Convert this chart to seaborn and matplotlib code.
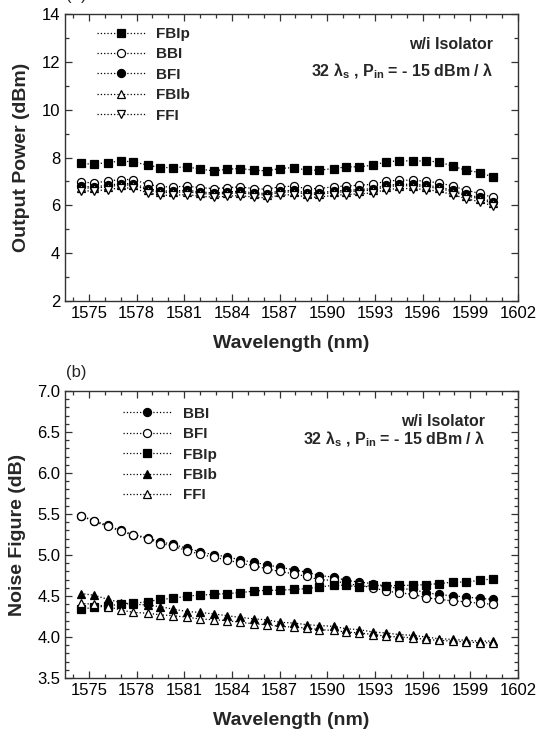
import matplotlib
matplotlib.use("Agg")
import matplotlib.pyplot as plt
import seaborn as sns
from matplotlib.ticker import MultipleLocator

# estilo base de seaborn
sns.set_style("ticks")
plt.rcParams['font.family'] = ['Liberation Sans', 'DejaVu Sans']
plt.rcParams['mathtext.fontset'] = 'custom'
plt.rcParams['mathtext.rm'] = 'Liberation Sans:bold'
plt.rcParams['mathtext.it'] = 'Liberation Sans:bold'
plt.rcParams['mathtext.bf'] = 'Liberation Sans:bold'

# longitudes de onda de los 32 canales (nm)
wavelength = [1574.5, 1575.3, 1576.2, 1577.0, 1577.8, 1578.7, 1579.5, 1580.3,
              1581.2, 1582.0, 1582.9, 1583.7, 1584.5, 1585.4, 1586.2, 1587.0,
              1587.9, 1588.7, 1589.5, 1590.4, 1591.2, 1592.0, 1592.9, 1593.7,
              1594.5, 1595.4, 1596.2, 1597.0, 1597.9, 1598.7, 1599.6, 1600.4]

# (a) potencia de salida (dBm)
pout_fbip = [7.75, 7.72, 7.79, 7.85, 7.82, 7.68, 7.58, 7.58, 7.61, 7.51, 7.44,
             7.51, 7.54, 7.47, 7.44, 7.54, 7.58, 7.47, 7.47, 7.54, 7.61, 7.61,
             7.68, 7.82, 7.86, 7.86, 7.85, 7.82, 7.64, 7.47, 7.37, 7.19]
pout_bbi = [6.97, 6.94, 7.01, 7.08, 7.08, 6.88, 6.78, 6.77, 6.80, 6.74, 6.70,
            6.74, 6.77, 6.70, 6.67, 6.78, 6.80, 6.70, 6.70, 6.78, 6.81, 6.84,
            6.88, 7.01, 7.05, 7.05, 7.01, 6.94, 6.81, 6.63, 6.50, 6.33]
pout_bfi = [6.80, 6.77, 6.84, 6.91, 6.91, 6.70, 6.60, 6.60, 6.63, 6.56, 6.52,
            6.56, 6.59, 6.52, 6.49, 6.60, 6.63, 6.52, 6.52, 6.60, 6.63, 6.66,
            6.70, 6.84, 6.88, 6.88, 6.84, 6.77, 6.63, 6.46, 6.33, 6.14]
pout_fbib = [6.74, 6.71, 6.78, 6.85, 6.85, 6.64, 6.54, 6.54, 6.57, 6.50, 6.46,
             6.50, 6.53, 6.46, 6.43, 6.54, 6.57, 6.46, 6.46, 6.54, 6.57, 6.60,
             6.64, 6.78, 6.82, 6.82, 6.78, 6.71, 6.57, 6.40, 6.27, 6.08]
pout_ffi = [6.62, 6.59, 6.66, 6.73, 6.72, 6.52, 6.42, 6.42, 6.45, 6.38, 6.34,
            6.38, 6.41, 6.34, 6.31, 6.42, 6.45, 6.34, 6.34, 6.42, 6.45, 6.48,
            6.52, 6.66, 6.70, 6.70, 6.66, 6.59, 6.45, 6.28, 6.15, 5.98]

# (b) figura de ruido (dB)
nf_bbi = [5.48, 5.42, 5.36, 5.30, 5.25, 5.21, 5.16, 5.13, 5.08, 5.04, 5.00,
          4.98, 4.94, 4.91, 4.88, 4.85, 4.82, 4.79, 4.75, 4.73, 4.69, 4.67,
          4.65, 4.62, 4.59, 4.58, 4.54, 4.52, 4.50, 4.49, 4.47, 4.46]
nf_bfi = [5.48, 5.41, 5.35, 5.29, 5.24, 5.20, 5.14, 5.11, 5.05, 5.01, 4.97,
          4.94, 4.90, 4.87, 4.83, 4.80, 4.77, 4.74, 4.70, 4.69, 4.65, 4.63,
          4.60, 4.56, 4.54, 4.52, 4.48, 4.46, 4.44, 4.43, 4.41, 4.40]
nf_fbip = [4.34, 4.36, 4.38, 4.40, 4.41, 4.43, 4.46, 4.47, 4.50, 4.51, 4.52,
           4.53, 4.54, 4.56, 4.57, 4.57, 4.58, 4.59, 4.61, 4.63, 4.63, 4.61,
           4.63, 4.62, 4.63, 4.63, 4.64, 4.65, 4.67, 4.67, 4.69, 4.71]
nf_fbib = [4.53, 4.51, 4.46, 4.42, 4.40, 4.39, 4.37, 4.34, 4.31, 4.30, 4.28,
           4.26, 4.24, 4.22, 4.21, 4.18, 4.17, 4.15, 4.14, 4.13, 4.10, 4.09,
           4.06, 4.05, 4.03, 4.02, 4.00, 3.98, 3.97, 3.96, 3.95, 3.95]
nf_ffi = [4.41, 4.40, 4.37, 4.33, 4.30, 4.29, 4.27, 4.26, 4.24, 4.22, 4.21,
          4.20, 4.18, 4.16, 4.15, 4.13, 4.12, 4.11, 4.09, 4.08, 4.06, 4.05,
          4.03, 4.01, 4.00, 3.99, 3.97, 3.96, 3.95, 3.94, 3.93, 3.93]

# (etiqueta, datos, marcador, relleno)
series_a = [('FBIp', pout_fbip, 's', 'k'),
            ('BBI', pout_bbi, 'o', 'white'),
            ('BFI', pout_bfi, 'o', 'k'),
            ('FBIb', pout_fbib, '^', 'white'),
            ('FFI', pout_ffi, 'v', 'white')]
series_b = [('BBI', nf_bbi, 'o', 'k'),
            ('BFI', nf_bfi, 'o', 'white'),
            ('FBIp', nf_fbip, 's', 'k'),
            ('FBIb', nf_fbib, '^', 'k'),
            ('FFI', nf_ffi, '^', 'white')]

msize = {'s': 5.2, 'o': 5.8, '^': 6.3, 'v': 6.3}

fig = plt.figure(figsize=(5.36, 7.32), dpi=100)
ax_a = fig.add_axes([65 / 536, 1 - 301 / 732, 453 / 536, 287 / 732])
ax_b = fig.add_axes([65 / 536, 1 - 678 / 732, 453 / 536, 287 / 732])

edge = '#333333'


def draw_panel(ax, series):
    for label, vals, mk, fc in series:
        sns.lineplot(x=wavelength, y=vals, ax=ax, color='k', linestyle=':',
                     linewidth=0.9, marker=mk, markersize=msize[mk],
                     markerfacecolor=fc, markeredgecolor='k',
                     markeredgewidth=0.9, label=label, sort=False)
    ax.set_xlim(1573.5, 1602)
    ax.xaxis.set_major_locator(MultipleLocator(3))
    ax.xaxis.set_minor_locator(MultipleLocator(1))
    ax.tick_params(which='both', direction='in', top=True, right=True,
                   labelsize=12, colors=edge, labelcolor='k', width=0.9)
    ax.tick_params(which='major', length=5)
    ax.tick_params(which='minor', length=3)
    for sp in ax.spines.values():
        sp.set_color(edge)
        sp.set_linewidth(1.0)
    ax.set_xlabel('Wavelength (nm)', fontsize=14, fontweight='bold', labelpad=10)


draw_panel(ax_a, series_a)
ax_a.set_ylim(2, 14)
ax_a.yaxis.set_major_locator(MultipleLocator(2))
ax_a.yaxis.set_minor_locator(MultipleLocator(1))
ax_a.set_ylabel('Output Power (dBm)', fontsize=14, fontweight='bold', labelpad=8)
ax_a.legend(loc='upper left', bbox_to_anchor=(0.07, 0.955), frameon=False,
            prop={'weight': 'bold', 'size': 11}, handlelength=3.2,
            handletextpad=0.7, labelspacing=0.42, borderaxespad=0, borderpad=0)
ax_a.text(0.945, 0.892, 'w/i Isolator', transform=ax_a.transAxes, ha='right',
          va='center', fontsize=11.5, fontweight='bold')
ax_a.text(0.945, 0.80, r'32 λ$_{\rm s}$ , P$_{\rm in}$ = - 15 dBm / λ',
          transform=ax_a.transAxes, ha='right', va='center', fontsize=11.5,
          fontweight='bold')

draw_panel(ax_b, series_b)
ax_b.set_ylim(3.5, 7.0)
ax_b.yaxis.set_major_locator(MultipleLocator(0.5))
ax_b.yaxis.set_minor_locator(MultipleLocator(0.1))
ax_b.yaxis.set_major_formatter(matplotlib.ticker.FormatStrFormatter('%.1f'))
ax_b.set_ylabel('Noise Figure (dB)', fontsize=14, fontweight='bold', labelpad=8)
ax_b.legend(loc='upper left', bbox_to_anchor=(0.128, 0.945), frameon=False,
            prop={'weight': 'bold', 'size': 11}, handlelength=3.2,
            handletextpad=0.7, labelspacing=0.42, borderaxespad=0, borderpad=0)
ax_b.text(0.927, 0.895, 'w/i Isolator', transform=ax_b.transAxes, ha='right',
          va='center', fontsize=11.5, fontweight='bold')
ax_b.text(0.927, 0.83, r'32 λ$_{\rm s}$ , P$_{\rm in}$ = - 15 dBm / λ',
          transform=ax_b.transAxes, ha='right', va='center', fontsize=11.5,
          fontweight='bold')

# etiquetas de panel (la (a) queda cortada arriba, como en el original)
fig.text(66 / 536, 1 - 3 / 732, '(a)', fontsize=12, ha='left', va='bottom')
fig.text(66 / 536, 1 - 372 / 732, '(b)', fontsize=12, ha='left', va='center')

fig.savefig('out.png', dpi=100)
